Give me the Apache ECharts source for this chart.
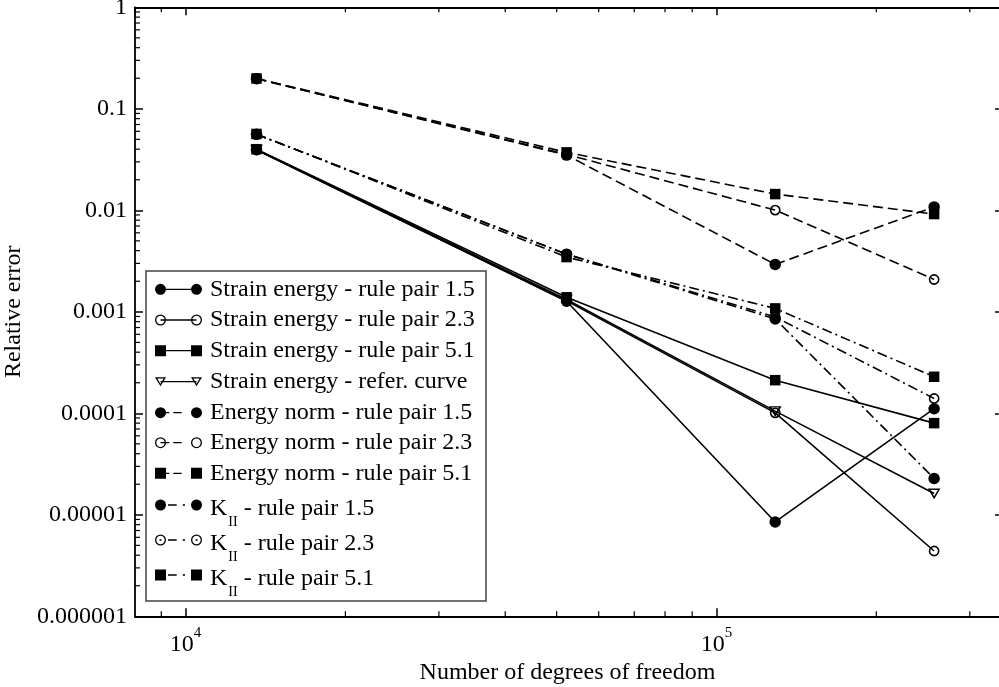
<!DOCTYPE html>
<html>
<head>
<meta charset="utf-8">
<title>Relative error</title>
<script src="https://cdn.jsdelivr.net/npm/echarts@6/dist/echarts.min.js"></script>
<style>
html, body { margin: 0; padding: 0; background: #fff; }
#main { width: 999px; height: 687px; }
</style>
</head>
<body>
<div id="main"></div>
<script>
// degrees of freedom of the four meshes
var dof = [13600, 52200, 129000, 257000];

// relative errors
var seStrain15 = [0.0395, 0.00127, 8.5e-6, 1.11e-4];
var seStrain23 = [0.0395, 0.00128, 1.01e-4, 4.4e-6];
var seStrain51 = [0.0400, 0.00139, 2.12e-4, 8.0e-5];
var seRefer    = [0.0395, 0.00132, 1.05e-4, 1.62e-5];
var enNorm15   = [0.198, 0.0350, 0.00293, 0.0108];
var enNorm23   = [0.198, 0.0355, 0.01005, 0.00208];
var enNorm51   = [0.199, 0.0372, 0.01445, 0.00918];
var kII15      = [0.0560, 0.00370, 0.00085, 2.28e-5];
var kII23      = [0.0560, 0.00370, 0.00089, 1.40e-4];
var kII51      = [0.0565, 0.00346, 0.00108, 2.29e-4];

// axis ticks
var yTickLabels = ['0.000001', '0.00001', '0.0001', '0.001', '0.01', '0.1', '1'];
var xMinorTicks = [9000, 20000, 30000, 40000, 50000, 60000, 70000, 80000, 90000, 200000, 300000];
var yMinorSteps = [2, 3, 4, 5, 6, 7, 8, 9];
var yDecades = [1e-6, 1e-5, 1e-4, 1e-3, 1e-2, 1e-1];

var X_MIN = 8030, X_MAX = 342000, Y_MIN = 1e-6, Y_MAX = 1;
var FONT = 'Liberation Serif';

var seriesDefs = [
    {name: 'Strain energy - rule pair 1.5', values: seStrain15, line: 'solid', mark: 'dot'},
    {name: 'Strain energy - rule pair 2.3', values: seStrain23, line: 'solid', mark: 'ring'},
    {name: 'Strain energy - rule pair 5.1', values: seStrain51, line: 'solid', mark: 'box'},
    {name: 'Strain energy - refer. curve', values: seRefer, line: 'solid', mark: 'tri'},
    {name: 'Energy norm - rule pair 1.5', values: enNorm15, line: 'dash', mark: 'dot'},
    {name: 'Energy norm - rule pair 2.3', values: enNorm23, line: 'dash', mark: 'ring'},
    {name: 'Energy norm - rule pair 5.1', values: enNorm51, line: 'dash', mark: 'box'},
    {name: 'K_II - rule pair 1.5', values: kII15, line: 'dashdot', mark: 'dot'},
    {name: 'K_II - rule pair 2.3', values: kII23, line: 'dashdot', mark: 'ring'},
    {name: 'K_II - rule pair 5.1', values: kII51, line: 'dashdot', mark: 'box'}
];

// centre of each legend row (layout only)
var legendRowY = [289.3, 320, 350.7, 381.7, 412.7, 442.7, 473.3, 505, 540, 575];

var lineTypes = {solid: 'solid', dash: [10, 5], dashdot: [10, 4, 2, 4]};

function markStyle(mark) {
    if (mark === 'dot') return {symbol: 'circle', symbolSize: 11.5, itemStyle: {color: '#000', borderWidth: 0}};
    if (mark === 'ring') return {symbol: 'circle', symbolSize: 9.2, itemStyle: {color: 'rgba(0,0,0,0)', borderColor: '#000', borderWidth: 1.6}};
    if (mark === 'box') return {symbol: 'rect', symbolSize: 10.5, itemStyle: {color: '#000', borderWidth: 0}};
    return {symbol: 'triangle', symbolSize: [10, 8.5], symbolRotate: 180, itemStyle: {color: 'rgba(0,0,0,0)', borderColor: '#000', borderWidth: 1.5}};
}

// legend icon: marker - line - marker, drawn as one path
function f(n) { return n.toFixed(2); }
function rectPath(x1, y1, x2, y2) {
    return 'M' + f(x1) + ' ' + f(y1) + 'H' + f(x2) + 'V' + f(y2) + 'H' + f(x1) + 'Z';
}
function circlePath(cx, cy, r, sweep) {
    return 'M' + f(cx - r) + ' ' + f(cy) + 'A' + r + ' ' + r + ' 0 1 ' + sweep + ' ' + f(cx + r) + ' ' + f(cy) +
        'A' + r + ' ' + r + ' 0 1 ' + sweep + ' ' + f(cx - r) + ' ' + f(cy) + 'Z';
}
function markPath(mark, cx, cy) {
    if (mark === 'dot') return circlePath(cx, cy, 5.5, 1);
    if (mark === 'ring') return circlePath(cx, cy, 5.5, 1) + circlePath(cx, cy, 4.2, 0);
    if (mark === 'box') return rectPath(cx - 5.5, cy - 5.5, cx + 5.5, cy + 5.5);
    return 'M' + f(cx - 5.5) + ' ' + f(cy - 4.5) + 'L' + f(cx + 5.5) + ' ' + f(cy - 4.5) + 'L' + f(cx) + ' ' + f(cy + 4.5) + 'Z' +
        'M' + f(cx - 3.18) + ' ' + f(cy - 3.2) + 'L' + f(cx) + ' ' + f(cy + 2) + 'L' + f(cx + 3.18) + ' ' + f(cy - 3.2) + 'Z';
}
function iconPath(mark, line) {
    var cy = 6, c1 = 5.5, c2 = 41.5, t = 0.65;
    var segs = line === 'solid' ? [[c1, c2]]
        : line === 'dash' ? [[c1, 14.3], [18.3, 26.7]]
        : [[4.5, 6.5], [13, 21.7], [27.7, 30], [40.5, 42.5]];
    var d = '';
    segs.forEach(function (s) { d += rectPath(s[0], cy - t, s[1], cy + t); });
    d += markPath(mark, c1, cy) + markPath(mark, c2, cy);
    return 'path://' + d;
}

var series = seriesDefs.map(function (d) {
    var m = markStyle(d.mark);
    return {
        name: d.name,
        type: 'line',
        data: d.values.map(function (v, i) { return [dof[i], v]; }),
        symbol: m.symbol,
        symbolSize: m.symbolSize,
        symbolRotate: m.symbolRotate || 0,
        itemStyle: m.itemStyle,
        lineStyle: {color: '#000', width: 1.6, type: lineTypes[d.line]},
        emphasis: {disabled: true},
        z: 2
    };
});

// minor ticks of the log axes, placed through the axes' own scales
var yMinorTicks = [];
yDecades.forEach(function (dec) {
    yMinorSteps.forEach(function (k) { yMinorTicks.push(k * dec); });
});
series.push({
    type: 'custom',
    coordinateSystem: 'cartesian2d',
    silent: true,
    z: 3,
    data: xMinorTicks.map(function (v) { return [v, Y_MIN]; }),
    renderItem: function (params, api) {
        var b = api.coord([api.value(0), Y_MIN]);
        var t = api.coord([api.value(0), Y_MAX]);
        return {type: 'group', children: [
            {type: 'line', shape: {x1: b[0], y1: b[1], x2: b[0], y2: b[1] - 5}, style: {stroke: '#000', lineWidth: 1.2}},
            {type: 'line', shape: {x1: t[0], y1: t[1], x2: t[0], y2: t[1] + 5}, style: {stroke: '#000', lineWidth: 1.2}}
        ]};
    }
});
series.push({
    type: 'custom',
    coordinateSystem: 'cartesian2d',
    silent: true,
    z: 3,
    data: yMinorTicks.map(function (v) { return [X_MIN, v]; }),
    renderItem: function (params, api) {
        var p = api.coord([X_MIN, api.value(1)]);
        return {type: 'line', shape: {x1: p[0], y1: p[1], x2: p[0] + 5, y2: p[1]}, style: {stroke: '#000', lineWidth: 1.2}};
    }
});

var legends = seriesDefs.map(function (d, i) {
    var isK = d.name.indexOf('K_II') === 0;
    var lg = {
        left: 155,
        top: legendRowY[i] - (isK ? 8 : 12),
        padding: 0,
        orient: 'vertical',
        itemWidth: 47,
        itemHeight: 12,
        selectedMode: false,
        symbolKeepAspect: true,
        itemStyle: {color: '#000', borderColor: '#000', borderWidth: 0},
        data: [{name: d.name, icon: iconPath(d.mark, d.line)}],
        z: 5
    };
    if (isK) {
        lg.formatter = function (name) { return '{m|K}{s|II}{m|' + name.slice(4) + '}'; };
        lg.textStyle = {
            fontFamily: FONT, fontSize: 24, color: '#000', padding: [8, 0, 0, 3],
            rich: {
                m: {fontFamily: FONT, fontSize: 24, lineHeight: 24, color: '#000', verticalAlign: 'top'},
                s: {fontFamily: FONT, fontSize: 14, lineHeight: 14, color: '#000', verticalAlign: 'top', padding: [18, 0, 0, 1]}
            }
        };
    } else {
        lg.textStyle = {fontFamily: FONT, fontSize: 24, lineHeight: 24, color: '#000', padding: [0, 0, 0, 3]};
    }
    return lg;
});

var axisLine = {show: true, onZero: false, lineStyle: {color: '#000', width: 1.8}};

var option = {
    animation: false,
    backgroundColor: '#fff',
    grid: {left: 135, top: 7.3, width: 865, height: 609, containLabel: false, outerBoundsMode: 'none'},
    legend: legends,
    graphic: [{
        type: 'rect',
        shape: {x: 146, y: 271, width: 340, height: 330},
        style: {fill: '#fff', stroke: '#444', lineWidth: 1.5},
        z: 4
    }],
    xAxis: [{
        type: 'log',
        min: X_MIN,
        max: X_MAX,
        position: 'bottom',
        name: 'Number of degrees of freedom',
        nameLocation: 'middle',
        nameGap: 41,
        nameTextStyle: {fontFamily: FONT, fontSize: 24, color: '#000'},
        axisLine: axisLine,
        axisTick: {show: true, inside: true, length: 8, lineStyle: {color: '#000', width: 1.5}},
        splitLine: {show: false},
        axisLabel: {
            margin: 9,
            showMinLabel: false,
            showMaxLabel: false,
            formatter: function (v) {
                return '{b|10}{s|' + Math.round(Math.log10(v)) + '}';
            },
            rich: {
                b: {fontFamily: FONT, fontSize: 24, lineHeight: 24, color: '#000', verticalAlign: 'top', padding: [7, 0, 0, 0]},
                s: {fontFamily: FONT, fontSize: 15, lineHeight: 15, color: '#000', verticalAlign: 'top'}
            }
        }
    }, {
        type: 'log',
        min: X_MIN,
        max: X_MAX,
        position: 'top',
        axisLine: axisLine,
        axisTick: {show: true, inside: true, length: 8, lineStyle: {color: '#000', width: 1.5}},
        splitLine: {show: false},
        axisLabel: {show: false}
    }],
    yAxis: [{
        type: 'log',
        min: Y_MIN,
        max: Y_MAX,
        position: 'left',
        name: 'Relative error',
        nameLocation: 'middle',
        nameGap: 101,
        nameTextStyle: {fontFamily: FONT, fontSize: 24, color: '#000'},
        axisLine: axisLine,
        axisTick: {show: true, inside: true, length: 8, lineStyle: {color: '#000', width: 1.5}},
        splitLine: {show: false},
        axisLabel: {
            margin: 8,
            fontFamily: FONT,
            fontSize: 24,
            color: '#000',
            formatter: function (v) {
                return yTickLabels[Math.round(Math.log10(v)) + 6];
            }
        }
    }, {
        type: 'log',
        min: Y_MIN,
        max: Y_MAX,
        position: 'right',
        axisLine: axisLine,
        axisTick: {show: true, inside: true, length: 5, lineStyle: {color: '#000', width: 1.5}},
        splitLine: {show: false},
        axisLabel: {show: false}
    }],
    series: series
};

var myChart = echarts.init(document.getElementById('main'));
myChart.setOption(option);
</script>
</body>
</html>
